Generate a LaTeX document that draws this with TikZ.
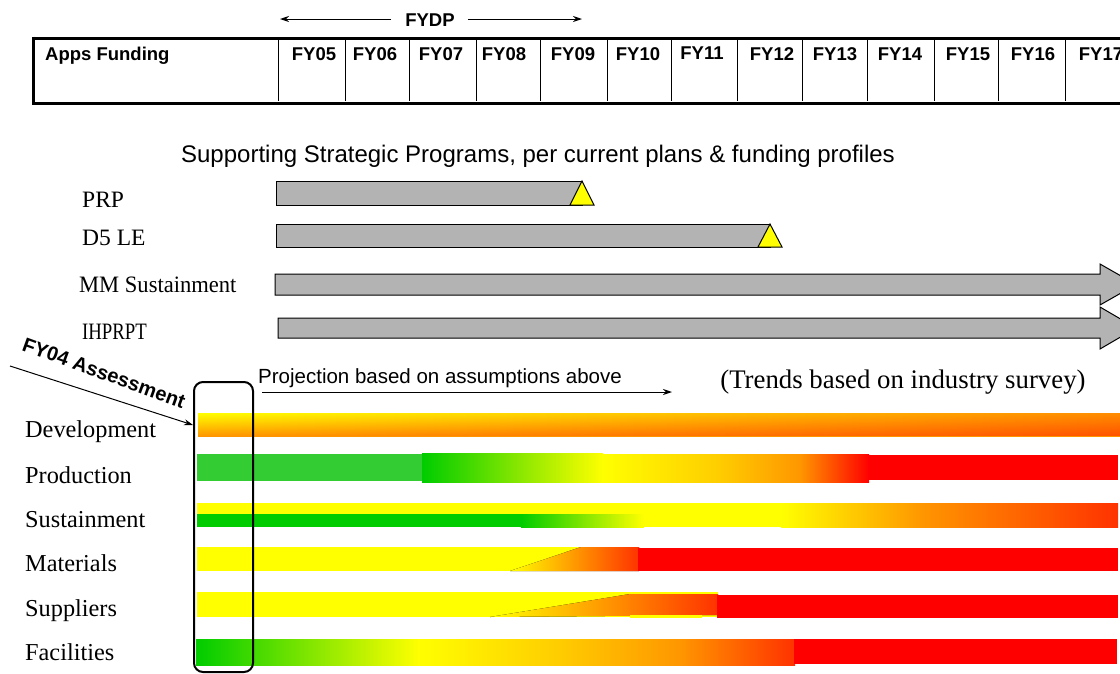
\documentclass[tikz,border=0pt]{standalone}
\usepackage{fontspec}
\setmainfont{Liberation Serif}
\newfontfamily\arialf{Liberation Sans}
\usetikzlibrary{arrows.meta,fadings}
\definecolor{barGray}{RGB}{179,179,179}
\definecolor{gYel}{RGB}{255,255,0}
\definecolor{gGreenA}{RGB}{51,204,51}
\definecolor{gGreenB}{RGB}{0,204,0}
\definecolor{gGold}{RGB}{255,204,0}
\definecolor{gOrange}{RGB}{255,150,0}
\definecolor{gRedOr}{RGB}{255,50,0}
\definecolor{gRed}{RGB}{255,0,0}
\tikzfading[name=fadeinright, left color=transparent!100, right color=transparent!0]
\tikzset{
  fy/.style={font=\arialf\bfseries\fontsize{18.5}{20}\selectfont, inner sep=0pt, anchor=base},
  proglab/.style={font=\fontsize{23.5}{25}\selectfont, anchor=base west, inner sep=0pt},
  rowlab/.style={font=\fontsize{24.3}{26}\selectfont, anchor=base west, inner sep=0pt},
  tblline/.style={line width=3pt},
  divline/.style={line width=1pt},
  progbar/.style={fill=barGray, draw=black, line width=1pt},
  milestone/.style={fill=gYel, draw=black, line width=1pt},
  arr/.style={-{Stealth[length=9pt,width=6pt]}, line width=1pt},
}
\begin{document}
\begin{tikzpicture}[x=1pt,y=-1pt]
\useasboundingbox (0,0) rectangle (1120,673);
\clip (0,0) rectangle (1120,673);
\fill[white] (0,0) rectangle (1120,673);

% ---------- table ----------
\draw[tblline] (33,38) -- (1125,38);
\draw[tblline] (33,103) -- (1125,103);
\draw[tblline] (33,36.5) -- (33,104.5);
\foreach \x in {278,345,409,476,540,607,671,737,802,867,934,998,1065}
  \draw[divline] (\x,38) -- (\x,101);
\node[fy, anchor=base west] (apps) at (45,60) {Apps Funding};
\node[fy] (fy05) at (314,60) {FY05};
\node[fy] (fy06) at (375,60) {FY06};
\node[fy] (fy07) at (441,60) {FY07};
\node[fy] (fy08) at (504,60) {FY08};
\node[fy] (fy09) at (573,60) {FY09};
\node[fy] (fy10) at (638,60) {FY10};
\node[fy] (fy11) at (702,59) {FY11};
\node[fy] (fy12) at (772,60) {FY12};
\node[fy] (fy13) at (835,60) {FY13};
\node[fy] (fy14) at (900,60) {FY14};
\node[fy] (fy15) at (968,60) {FY15};
\node[fy] (fy16) at (1033,60) {FY16};
\node[fy] (fy17) at (1101,60) {FY17};

% FYDP
\node[fy] (fydp) at (430,26) {FYDP};
\coordinate (fydpL) at (280,19);
\coordinate (fydpR) at (582,19);
\draw[arr] (fydp.west |- fydpL) ++(-14,0) -- (fydpL);
\draw[arr] (fydp.east |- fydpR) ++(13,0) -- (fydpR);

% ---------- strategic programs ----------
\node[font=\arialf\fontsize{24}{26}\selectfont, inner sep=0pt] (supp) at (538,156)
  {Supporting Strategic Programs, per current plans \& funding profiles};

\node[proglab] (prp) at (82,207) {PRP};
\node[proglab] (d5le) at (82,245) {D5 LE};
\node[proglab, xscale=0.96] (mms) at (79,292) {MM Sustainment};
\node[proglab, xscale=0.8] (ihp) at (82,339) {IHPRPT};

\draw[progbar] (276,181) rectangle (582,205);
\draw[milestone] (570,205) -- (594,205) -- (582,181) -- cycle;
\draw[progbar] (276,224) rectangle (770,247);
\draw[milestone] (758,247) -- (782,247) -- (770,224) -- cycle;
\draw[progbar] (275,274) -- (1100,274) -- (1100,264) -- (1136,284.5) -- (1100,305) -- (1100,295) -- (275,295) -- cycle;
\draw[progbar] (278,318) -- (1100,318) -- (1100,307) -- (1136,328) -- (1100,349) -- (1100,338) -- (278,338) -- cycle;

% ---------- assessment area ----------
\node[font=\fontsize{26.8}{28}\selectfont, inner sep=0pt] (trendsT) at (903,382)
  {(Trends based on industry survey)};
\node[font=\arialf\fontsize{20.5}{22}\selectfont, inner sep=0pt] (proj) at (440,378)
  {Projection based on assumptions above};
\coordinate (projL) at (262,392);
\coordinate (projR) at (672,392);
\draw[arr] (projL) -- (projR);

\node[rowlab] (dev) at (25,437) {Development};
\node[rowlab] (prod) at (25,483) {Production};
\node[rowlab] (sust) at (25,527) {Sustainment};
\node[rowlab] (mat) at (25,571) {Materials};
\node[rowlab] (sup) at (25,616) {Suppliers};
\node[rowlab] (fac) at (25,660) {Facilities};

% Development
\fill[top color=gYel, bottom color=gOrange] (198,413) rectangle (1120,436);
\fill[gRed, fill opacity=0.45, path fading=fadeinright] (198,413) rectangle (1120,436);

% Production
\fill[gGreenA] (197,454) rectangle (423,481);
\fill[left color=gGreenB, right color=gYel] (422,453) rectangle (603,482);
\fill[left color=gYel, right color=gGold] (602,454.5) rectangle (721,482);
\fill[left color=gGold, right color=gOrange] (720,454.5) rectangle (801,482);
\fill[left color=gOrange, right color=gRed] (800,454.5) rectangle (869,482);
\fill[gRed] (868,455) rectangle (1118,480);

% Sustainment
\fill[gYel] (197,503) rectangle (782,527);
\fill[left color=gYel, right color=gOrange] (781,503) rectangle (923,527);
\fill[left color=gOrange, right color=gRedOr] (922,503) rectangle (1118,527);
\fill[gGreenB] (197,514) rectangle (522,527);
\fill[left color=gGreenB, right color=gYel] (521,514) rectangle (644,527);

% Materials
\fill[gYel] (197,547) rectangle (639,571);
\fill[left color=gYel, right color=gRedOr] (510,571) -- (581,547) -- (639,547) -- (639,571) -- cycle;
\fill[gRed] (638,548) rectangle (1118,571);

% Suppliers
\fill[gYel] (197,592) rectangle (718,617);
\fill[left color=gYel, right color=gRedOr] (490,617) -- (630,594) -- (718,594) -- (718,615) -- cycle;
\fill[gYel] (630,614.5) rectangle (702,617.5);
\fill[gRed] (717,595) rectangle (1118,618);

% Facilities
\fill[left color=gGreenB, right color=gYel] (196,639) rectangle (419,665);
\fill[left color=gYel, right color=gGold] (418,639) rectangle (561,665);
\fill[left color=gGold, right color=gOrange] (560,639) rectangle (681,665);
\fill[left color=gOrange, right color=gRedOr] (680,639) rectangle (795,665);
\fill[gRed] (794,639) rectangle (1117,664);

% FY04 box and arrow
\node[draw, rounded corners=9pt, line width=2pt, minimum width=59pt, minimum height=290pt, inner sep=0pt] (abox) at (223.5,527) {};
\node[font=\arialf\bfseries\fontsize{20}{22}\selectfont, inner sep=0pt, rotate=-20] (fy04) at (104,373) {FY04 Assessment};
\coordinate (fy04tail) at (10,366);
\coordinate (fy04tip) at (193,425);
\draw[arr] (fy04tail) -- (fy04tip);
\end{tikzpicture}
\end{document}
